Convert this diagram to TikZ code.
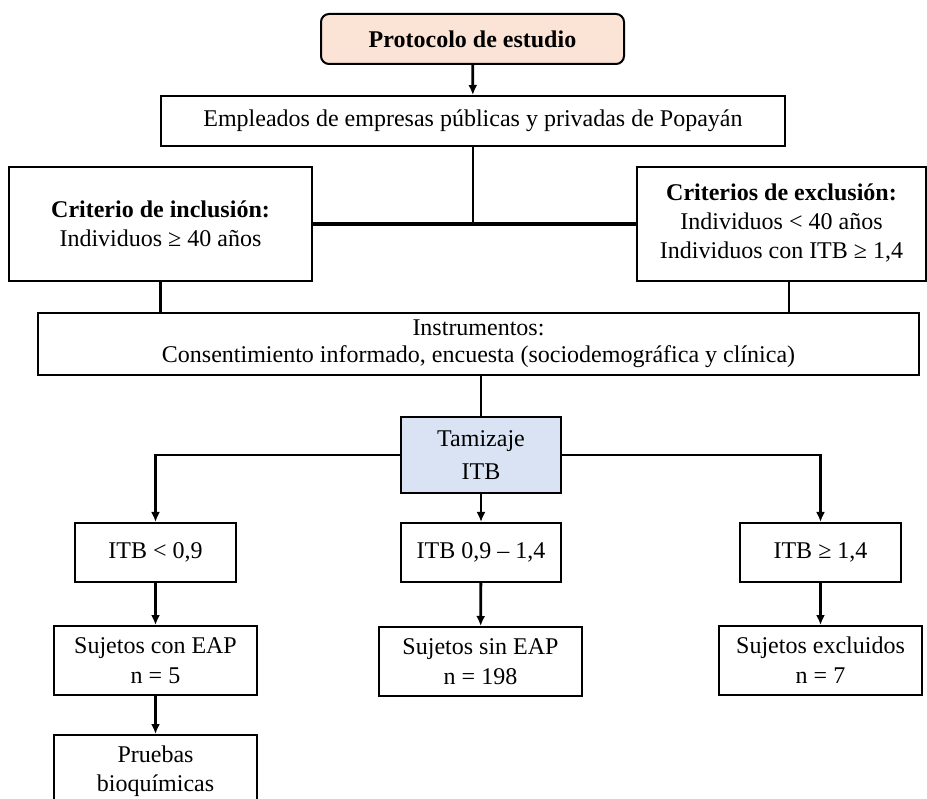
\documentclass[tikz,border=0pt]{standalone}
\usepackage{fontspec}
\setmainfont{Liberation Serif}
\usetikzlibrary{arrows.meta,calc}
\definecolor{salmon}{HTML}{FBE3D6}
\definecolor{lblue}{HTML}{DAE3F3}
\begin{document}
\begin{tikzpicture}[x=1pt,y=-1pt,
  box/.style={draw,line width=2pt,align=center,inner sep=0pt,font=\fontsize{24}{29}\selectfont},
  conn/.style={line width=2.8pt},
  arr/.style={line width=2.8pt,-{Latex[length=10pt,width=9pt]}}]
\useasboundingbox (0,0) rectangle (927,799);
\clip (0,0) rectangle (927,799);
\node[box,fill=salmon,rounded corners=8pt,minimum width=303pt,minimum height=50pt,font=\fontsize{24}{29}\selectfont\bfseries] (proto) at (472.5,39) {Protocolo de estudio};
\node[box,minimum width=624pt,minimum height=50pt] (emp) at (473,121) {Empleados de empresas públicas y privadas de Popayán};
\node[box,minimum width=303pt,minimum height=114pt] (incl) at (160.5,224) {\textbf{Criterio de inclusión:}\\Individuos ≥ 40 años};
\node[box,minimum width=289pt,minimum height=114pt] (excl) at (781.5,224) {\raisebox{-5pt}{\begin{tabular}{@{}c@{}}\textbf{Criterios de exclusión:}\\Individuos < 40 años\\Individuos con ITB ≥ 1,4\end{tabular}}};
\node[box,minimum width=881pt,minimum height=62pt,font=\fontsize{24}{27}\selectfont] (inst) at (478.5,344) {Instrumentos:\\Consentimiento informado, encuesta (sociodemográfica y clínica)};
\node[box,fill=lblue,minimum width=160pt,minimum height=76pt,font=\fontsize{24}{33}\selectfont] (tam) at (481,455) {Tamizaje\\ITB};
\node[box,minimum width=161pt,minimum height=59pt] (itba) at (155.5,552.5) {ITB < 0,9};
\node[box,minimum width=160pt,minimum height=59pt] (itbb) at (481,552.5) {ITB 0,9 – 1,4};
\node[box,minimum width=161pt,minimum height=59pt] (itbc) at (820.5,552.5) {ITB ≥ 1,4};
\node[box,minimum width=203pt,minimum height=69pt,font=\fontsize{24}{30}\selectfont] (sa) at (155.5,660.5) {Sujetos con EAP\\n = 5};
\node[box,minimum width=203pt,minimum height=69pt,font=\fontsize{24}{30}\selectfont] (sb) at (480.5,661.5) {Sujetos sin EAP\\n = 198};
\node[box,minimum width=203pt,minimum height=69pt,font=\fontsize{24}{30}\selectfont] (sc) at (820.5,660.5) {Sujetos excluidos\\n = 7};
\node[box,minimum width=203pt,minimum height=72pt] (prb) at (155.5,771) {Pruebas\\bioquímicas};
\coordinate (j1) at (emp.south |- incl.east);
\coordinate (ex) at (789,281);
\draw[arr] (proto) -- (emp);
\draw[conn] (emp.south) -- (j1);
\draw[conn,line width=4pt] (incl.east) -- (excl.west);
\draw[conn] (incl.south) -- (incl.south |- inst.north);
\draw[conn] (ex) -- (ex |- inst.north);
\draw[conn] (inst.south -| tam.north) -- (tam.north);
\draw[arr] (tam.west) -| (itba.north);
\draw[arr] (tam.east) -| (itbc.north);
\draw[arr] (tam.south) -- (itbb.north);
\draw[arr] (itba) -- (sa);
\draw[arr] (itbb) -- (sb);
\draw[arr] (itbc) -- (sc);
\draw[arr] (sa) -- (prb);
\end{tikzpicture}
\end{document}
